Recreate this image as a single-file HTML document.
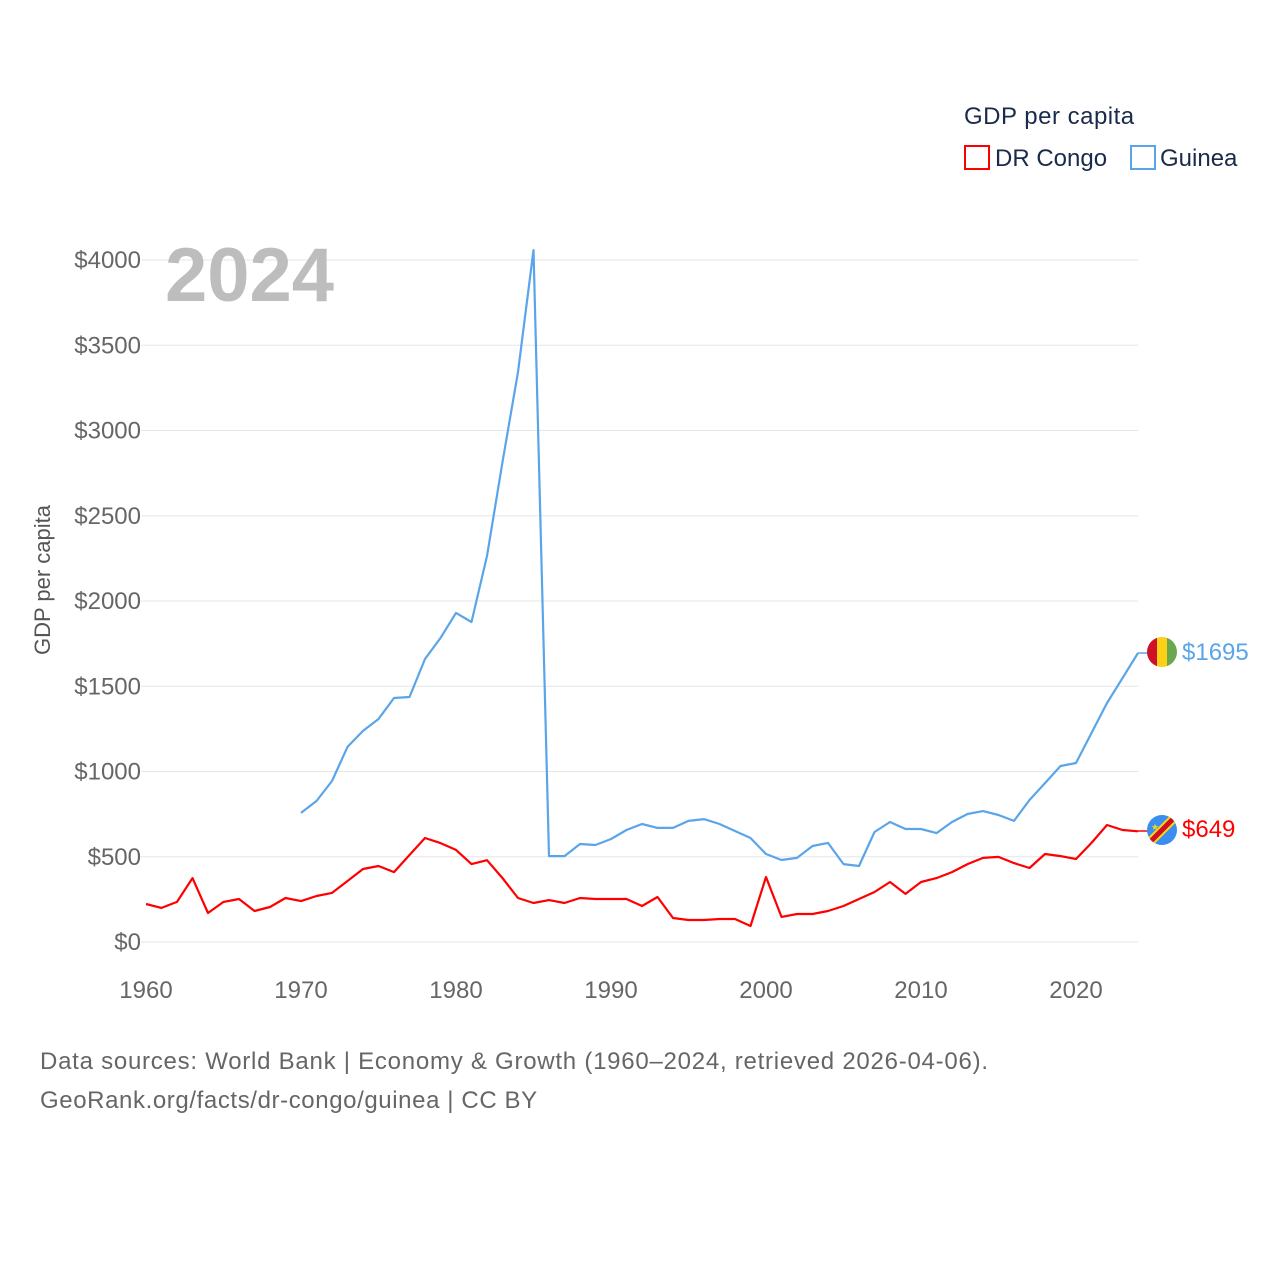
<!DOCTYPE html>
<html><head><meta charset="utf-8"><style>
body{margin:0;background:#fff;width:1280px;height:1280px;overflow:hidden;font-family:"Liberation Sans",sans-serif}
svg text{font-family:"Liberation Sans",sans-serif}
</style></head><body>
<svg id="chart" width="1280" height="1280">
<defs><clipPath id="cg"><circle cx="1162" cy="652" r="15"/></clipPath><clipPath id="cc"><circle cx="1162" cy="830" r="15"/></clipPath></defs>
<g id="grid"></g>
<g id="yticks"></g>
<g id="xticks"></g>
<text x="165" y="301" font-size="76" font-weight="bold" fill="#bdbdbd">2024</text>
<text transform="translate(50,580) rotate(-90)" text-anchor="middle" font-size="22" fill="#555">GDP per capita</text>
<g id="series"></g>
<text x="964" y="124" font-size="24" fill="#1a2a4a" letter-spacing="0.5">GDP per capita</text>
<g><rect x="965" y="146" width="24" height="23" fill="none" stroke="#ff0000" stroke-width="2"/><text x="995" y="166" font-size="24" fill="#1a2a4a">DR Congo</text></g>
<g><rect x="1131" y="146" width="24" height="23" fill="none" stroke="#5aa5ea" stroke-width="2"/><text x="1160" y="166" font-size="24" fill="#1a2a4a">Guinea</text></g>
<line x1="1138" y1="653" x2="1148" y2="653" stroke="#5aa5ea" stroke-width="1.5"/>
<line x1="1138" y1="831" x2="1148" y2="831" stroke="#ff0000" stroke-width="1.5"/>
<g clip-path="url(#cg)"><rect x="1147" y="637" width="10" height="30" fill="#ce1126"/><rect x="1157" y="637" width="10" height="30" fill="#fcd116"/><rect x="1167" y="637" width="10" height="30" fill="#6aa84f"/></g>
<text x="1182" y="660" font-size="24" fill="#5aa5ea">$1695</text>
<g clip-path="url(#cc)"><rect x="1147" y="815" width="30" height="30" fill="#3a8ef0"/><line x1="1145" y1="847" x2="1179" y2="813" stroke="#f7d618" stroke-width="9"/><line x1="1145" y1="847" x2="1179" y2="813" stroke="#ce1021" stroke-width="5"/><text x="1151" y="830" font-size="9" fill="#f7d618">★</text></g>
<text x="1182" y="837" font-size="24" fill="#ff0000">$649</text>
<text x="40" y="1069" font-size="24" fill="#666" letter-spacing="0.75">Data sources: World Bank | Economy &amp; Growth (1960–2024, retrieved 2026-04-06).</text>
<text x="40" y="1108" font-size="24" fill="#666" letter-spacing="0.6">GeoRank.org/facts/dr-congo/guinea | CC BY</text>
</svg>
<script>
const years=[];for(let y=1960;y<=2024;y++)years.push(y);
const drc=[223,200,235,375,170,235,252,182,205,258,240,270,288,358,428,446,410,510,610,580,540,457,480,375,258,229,246,229,258,252,252,252,211,264,141,129,129,135,135,94,381,147,164,164,182,211,252,293,352,282,352,375,410,457,493,499,463,434,516,504,487,581,686,657,649];
const guinea=[null,null,null,null,null,null,null,null,null,null,757,827,944,1144,1238,1308,1431,1437,1660,1783,1930,1877,2264,2815,3343,4058,504,504,575,569,604,657,692,669,669,710,721,692,651,610,516,481,493,563,581,457,446,645,704,663,663,639,704,751,768,745,710,833,932,1032,1050,1226,1402,1548,1695];
const yTicks=[0,500,1000,1500,2000,2500,3000,3500,4000];
const xTicks=[1960,1970,1980,1990,2000,2010,2020];
const X=v=>146+(v-1960)*15.5, Y=v=>942-v*0.1705;
const NS='http://www.w3.org/2000/svg';
function mk(t,a,p){const e=document.createElementNS(NS,t);for(const k in a)e.setAttribute(k,a[k]);p.appendChild(e);return e;}
const grid=document.getElementById('grid'),yt=document.getElementById('yticks'),xt=document.getElementById('xticks'),sg=document.getElementById('series');
yTicks.forEach(v=>{const l=mk('line',{x1:141,x2:1138,y1:Y(v),y2:Y(v),stroke:'#e6e6e6','stroke-width':1},grid);


const t=mk('text',{x:141,y:Y(v)+8,'text-anchor':'end','font-size':24,fill:'#666'},yt);t.textContent='$'+v;

});
xTicks.forEach(v=>{const t=mk('text',{x:X(v),y:998,'text-anchor':'middle','font-size':24,fill:'#666'},xt);t.textContent=v;

});
function line(data,col,name){let d='',pen=false;data.forEach((v,i)=>{if(v==null){pen=false;return;}d+=(pen?'L':'M')+X(years[i]).toFixed(1)+','+Y(v).toFixed(1);pen=true;});
const p=mk('path',{d:d,fill:'none',stroke:col,'stroke-width':2.2,'stroke-linejoin':'round'},sg);

}
line(guinea,'#5aa5ea','guinea-line');line(drc,'#ff0000','drc-line');
</script>
</body></html>
